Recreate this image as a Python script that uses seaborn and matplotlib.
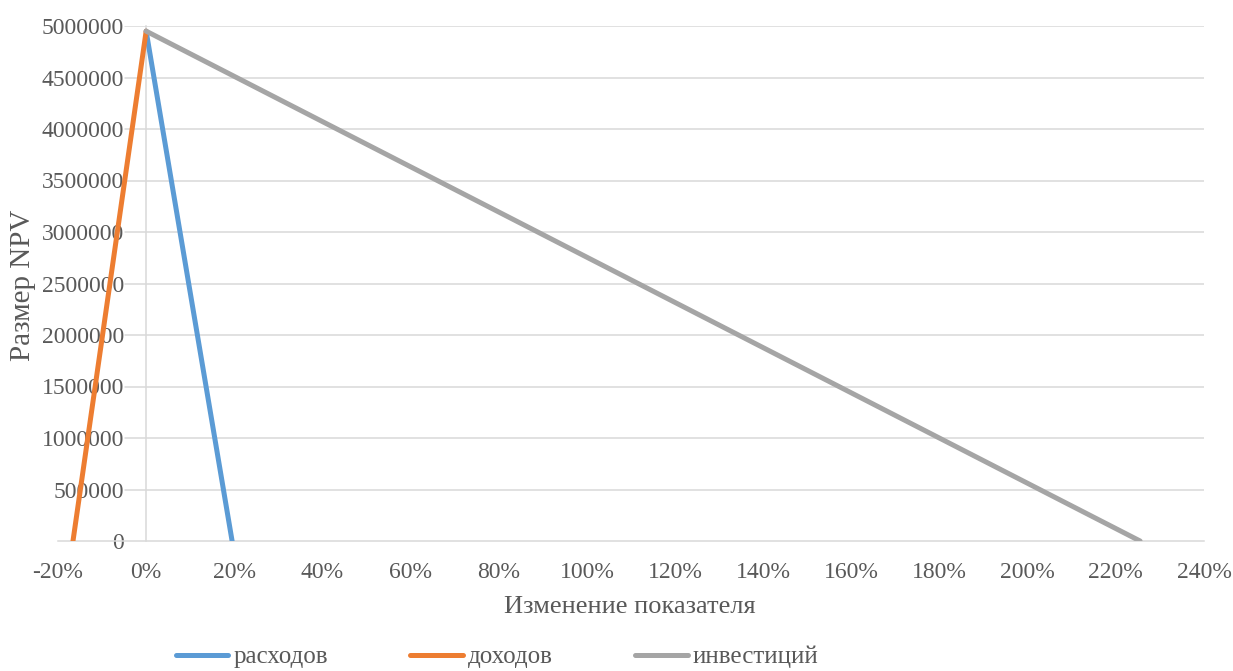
import matplotlib
matplotlib.use("Agg")
import matplotlib.pyplot as plt
import seaborn as sns
import pandas as pd
from matplotlib.ticker import MultipleLocator, FuncFormatter
from matplotlib.lines import Line2D

# Sensitivity of NPV to the change of each factor
series_names = ["расходов", "доходов", "инвестиций"]
costs_change = [0.0, 0.195]
costs_npv = [4950000, 0]
income_change = [0.0, -0.166]
income_npv = [4950000, 0]
invest_change = [0.0, 2.255]
invest_npv = [4950000, 0]
colors = ["#5B9BD5", "#ED7D31", "#A5A5A5"]

df = pd.concat([
    pd.DataFrame({"change": costs_change, "npv": costs_npv, "series": series_names[0]}),
    pd.DataFrame({"change": income_change, "npv": income_npv, "series": series_names[1]}),
    pd.DataFrame({"change": invest_change, "npv": invest_npv, "series": series_names[2]}),
], ignore_index=True)

sns.set_theme(style="white")
plt.rcParams["font.family"] = ["Liberation Serif", "DejaVu Serif"]
text_color = "#595959"
grid_color = "#D9D9D9"
tick_fs = 17
title_fs = 19
legend_fs = 18

fig = plt.figure(figsize=(12.33, 6.71), dpi=100)
ax = fig.add_axes([58 / 1233, 1 - 541 / 671, (1204 - 58) / 1233, (541 - 26) / 671])

sns.lineplot(data=df, x="change", y="npv", hue="series", palette=colors,
             hue_order=series_names, sort=False, linewidth=3.6, legend=False,
             ax=ax, zorder=3)
for ln in ax.get_lines():
    ln.set_solid_capstyle("round")

ax.set_xlim(-0.2, 2.4)
ax.set_ylim(0, 5000000)

# horizontal gridlines (they stop short of the value labels)
yticks = list(range(0, 5000001, 500000))
for yv in yticks[1:]:
    ax.axhline(yv, xmin=(125 - 58) / (1204 - 58), xmax=1, color=grid_color,
               linewidth=1.1, zorder=1)

ax.xaxis.set_major_locator(MultipleLocator(0.2))
ax.xaxis.set_minor_locator(MultipleLocator(0.1))
ax.xaxis.set_major_formatter(FuncFormatter(lambda v, p: f"{v * 100:.0f}%"))
ax.set_yticks(yticks)
ax.yaxis.set_major_formatter(FuncFormatter(lambda v, p: f"{int(round(v))}"))

for s in ["top", "right"]:
    ax.spines[s].set_visible(False)
ax.spines["left"].set_position(("data", 0))
ax.spines["left"].set_color(grid_color)
ax.spines["left"].set_linewidth(1.1)
ax.spines["left"].set_zorder(1)
ax.spines["bottom"].set_color(grid_color)
ax.spines["bottom"].set_linewidth(1.1)
ax.spines["bottom"].set_zorder(1)

ax.tick_params(axis="x", which="major", direction="inout", length=8, width=1.1,
               color=grid_color, labelsize=tick_fs, labelcolor=text_color, pad=11)
ax.tick_params(axis="x", which="minor", direction="in", length=3.6, width=1.1,
               color=grid_color)
ax.tick_params(axis="y", which="major", length=0, labelsize=tick_fs,
               labelcolor=text_color, pad=16)
for lab in ax.get_yticklabels():
    lab.set_zorder(5)

ax.set_xlabel("")
ax.set_ylabel("")
fig.text(630 / 1233, 1 - 607 / 671, "Изменение показателя", fontsize=title_fs,
         color=text_color, ha="center", va="center")
fig.text(23 / 1233, 1 - 285 / 671, "Размер NPV", rotation=90, fontsize=21,
         color=text_color, ha="center", va="center")

handles = [Line2D([0], [0], color=c, linewidth=3.6, solid_capstyle="round") for c in colors]
fig.legend(handles, series_names, loc="center", bbox_to_anchor=(497 / 1233, 1 - 657 / 671),
           ncol=3, frameon=False, fontsize=legend_fs, labelcolor=text_color,
           handlelength=2.1, handletextpad=0.2, columnspacing=3.3,
           borderpad=0, borderaxespad=0)

fig.savefig("out.png", dpi=100, facecolor="white")
